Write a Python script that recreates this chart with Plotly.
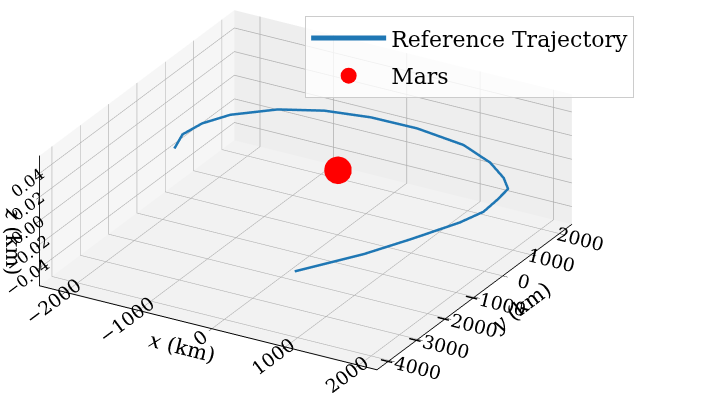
import plotly.graph_objects as go

# Reference trajectory in the orbital plane (km)
traj_x = [-1960, -2070, -2020, -1850, -1440, -945, -377, 248, 947, 1460, 1808, 2003, 2042, 2065, 1968, 1703, 1422, 1099, 952]
traj_y = [-687, -114, 448, 1002, 1608, 1978, 2152, 2168, 1989, 1601, 1176, 828, 346, -202, -799, -1797, -2756, -3598, -3981]
traj_z = [0.0] * len(traj_x)

# Mars at the origin
mars_x = [0.0]
mars_y = [0.0]
mars_z = [0.0]

x_ticks = [-2000, -1000, 0, 1000, 2000]
y_ticks = [-4000, -3000, -2000, -1000, 0, 1000, 2000]
z_ticks = [-0.04, -0.02, 0.0, 0.02, 0.04]

FONT = "DejaVu Serif"

fig = go.Figure()
fig.add_trace(go.Scatter3d(
    x=traj_x, y=traj_y, z=traj_z, mode="lines",
    line=dict(color="#1f77b4", width=5),
    name="Reference Trajectory", legendgroup="traj",
))
fig.add_trace(go.Scatter3d(
    x=mars_x, y=mars_y, z=mars_z, mode="markers",
    marker=dict(color="red", size=16, line=dict(width=0)),
    name="Mars", legendgroup="mars",
))

def axis(title, ticks, rng, pane, fmt=None, tick_size=15):
    d = dict(
        title=dict(text=title, font=dict(family=FONT, size=21, color="black")),
        tickvals=ticks, range=rng,
        tickfont=dict(family=FONT, size=tick_size, color="black"),
        showbackground=True, backgroundcolor=pane,
        gridcolor="#b0b0b0", gridwidth=1.5,
        showline=True, linecolor="black", linewidth=2,
        ticks="outside", tickcolor="black", ticklen=6,
        zeroline=False, showspikes=False,
    )
    if fmt:
        d["tickformat"] = fmt
    return d

# view direction: elevation ~25.5 deg, azimuth -60 deg
view = (0.451, -0.781, 0.431)
dist = 1.5
center = (0.241, 0.108, -0.058)

fig.update_layout(
    width=718, height=406,
    margin=dict(l=0, r=0, t=0, b=0),
    paper_bgcolor="white",
    scene=dict(
        domain=dict(x=[0, 1], y=[0, 1]),
        xaxis=axis("<i>x</i> (km)", x_ticks, [-2350, 2250], "#f6f6f6"),
        yaxis=axis("<i>y</i> (km)", y_ticks, [-4440, 2440], "#eeeeee"),
        zaxis=axis("<i>z</i> (km)", z_ticks, [-0.055, 0.055], "#f2f2f2", ".2f", 14),
        aspectmode="manual",
        aspectratio=dict(x=1.92, y=1.92, z=0.71),
        camera=dict(
            eye=dict(x=center[0] + view[0] * dist,
                     y=center[1] + view[1] * dist,
                     z=center[2] + view[2] * dist),
            up=dict(x=0, y=0, z=1),
            center=dict(x=center[0], y=center[1], z=center[2]),
            projection=dict(type="orthographic"),
        ),
    ),
    legend=dict(
        x=0.425, y=0.96, xanchor="left", yanchor="top",
        bgcolor="rgba(255,255,255,0.8)", bordercolor="#cccccc", borderwidth=1,
        font=dict(family=FONT, size=22, color="black"),
        itemwidth=75, tracegroupgap=6,
    ),
)

fig.write_html("out.html")
